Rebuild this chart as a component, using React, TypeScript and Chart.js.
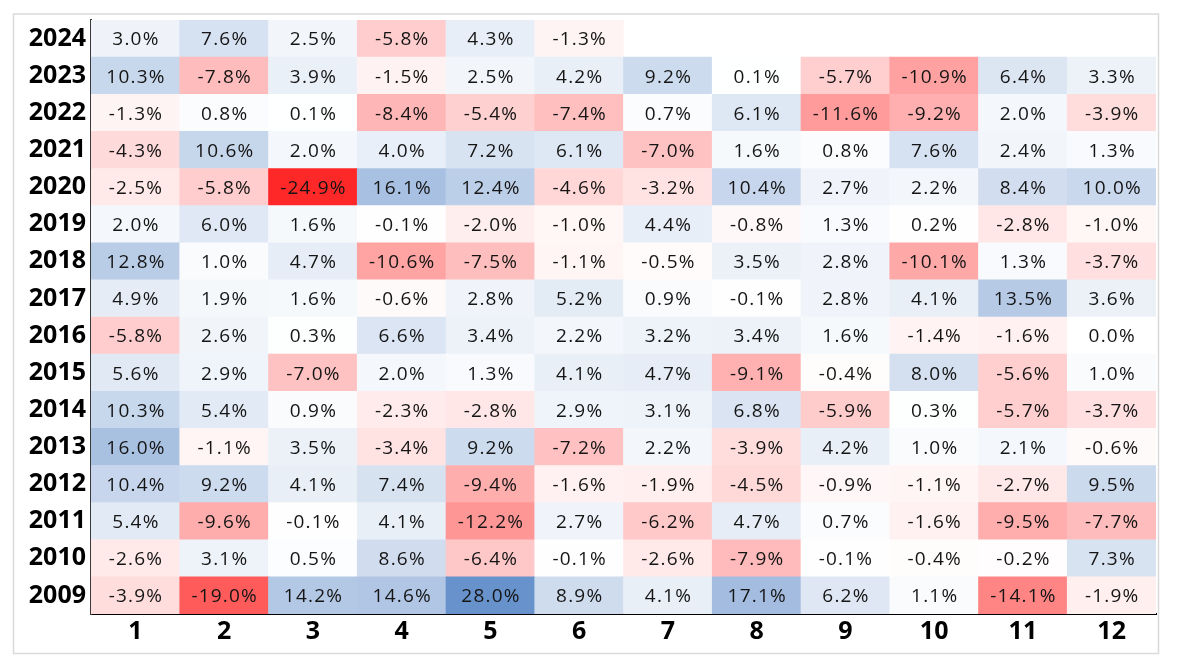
import React, { useEffect, useRef } from "react";
import { Chart, registerables } from "chart.js";

Chart.register(...registerables);

const months = ["1", "2", "3", "4", "5", "6", "7", "8", "9", "10", "11", "12"];
const years = [2009, 2010, 2011, 2012, 2013, 2014, 2015, 2016, 2017, 2018, 2019, 2020, 2021, 2022, 2023, 2024];

const r2009 = [-3.9, -19.0, 14.2, 14.6, 28.0, 8.9, 4.1, 17.1, 6.2, 1.1, -14.1, -1.9];
const r2010 = [-2.6, 3.1, 0.5, 8.6, -6.4, -0.1, -2.6, -7.9, -0.1, -0.4, -0.2, 7.3];
const r2011 = [5.4, -9.6, -0.1, 4.1, -12.2, 2.7, -6.2, 4.7, 0.7, -1.6, -9.5, -7.7];
const r2012 = [10.4, 9.2, 4.1, 7.4, -9.4, -1.6, -1.9, -4.5, -0.9, -1.1, -2.7, 9.5];
const r2013 = [16.0, -1.1, 3.5, -3.4, 9.2, -7.2, 2.2, -3.9, 4.2, 1.0, 2.1, -0.6];
const r2014 = [10.3, 5.4, 0.9, -2.3, -2.8, 2.9, 3.1, 6.8, -5.9, 0.3, -5.7, -3.7];
const r2015 = [5.6, 2.9, -7.0, 2.0, 1.3, 4.1, 4.7, -9.1, -0.4, 8.0, -5.6, 1.0];
const r2016 = [-5.8, 2.6, 0.3, 6.6, 3.4, 2.2, 3.2, 3.4, 1.6, -1.4, -1.6, 0.0];
const r2017 = [4.9, 1.9, 1.6, -0.6, 2.8, 5.2, 0.9, -0.1, 2.8, 4.1, 13.5, 3.6];
const r2018 = [12.8, 1.0, 4.7, -10.6, -7.5, -1.1, -0.5, 3.5, 2.8, -10.1, 1.3, -3.7];
const r2019 = [2.0, 6.0, 1.6, -0.1, -2.0, -1.0, 4.4, -0.8, 1.3, 0.2, -2.8, -1.0];
const r2020 = [-2.5, -5.8, -24.9, 16.1, 12.4, -4.6, -3.2, 10.4, 2.7, 2.2, 8.4, 10.0];
const r2021 = [-4.3, 10.6, 2.0, 4.0, 7.2, 6.1, -7.0, 1.6, 0.8, 7.6, 2.4, 1.3];
const r2022 = [-1.3, 0.8, 0.1, -8.4, -5.4, -7.4, 0.7, 6.1, -11.6, -9.2, 2.0, -3.9];
const r2023 = [10.3, -7.8, 3.9, -1.5, 2.5, 4.2, 9.2, 0.1, -5.7, -10.9, 6.4, 3.3];
const r2024 = [3.0, 7.6, 2.5, -5.8, 4.3, -1.3, null, null, null, null, null, null];

const rows: (number | null)[][] = [
  r2009, r2010, r2011, r2012, r2013, r2014, r2015, r2016,
  r2017, r2018, r2019, r2020, r2021, r2022, r2023, r2024,
];

function colorFor(v: number | null): string {
  if (v == null) return "rgba(255,255,255,0)";
  if (v < 0) {
    const t = Math.min(1, -v / 29.5);
    const c = Math.round(255 * (1 - t));
    return `rgb(255,${c},${c})`;
  }
  const t = Math.min(1, v / 30);
  return `rgb(${Math.round(255 - t * 162)},${Math.round(255 - t * 117)},${Math.round(255 - t * 56)})`;
}

const framePlugin = {
  id: "frame",
  beforeDraw(chart: any) {
    const ctx = chart.ctx;
    ctx.save();
    ctx.fillStyle = "#ffffff";
    ctx.fillRect(0, 0, chart.width, chart.height);
    ctx.strokeStyle = "#dadada";
    ctx.lineWidth = 1.5;
    ctx.strokeRect(13.5, 14, 1145, 639.5);
    ctx.restore();
  },
};

const labelPlugin = {
  id: "cellLabels",
  afterDatasetsDraw(chart: any) {
    const ctx = chart.ctx;
    ctx.save();
    ctx.font = '400 19px "Open Sans"';
    try {
      (ctx as any).letterSpacing = "1.2px";
    } catch (e) {}
    ctx.fillStyle = "#151515";
    ctx.textAlign = "center";
    ctx.textBaseline = "middle";
    chart.data.datasets.forEach((ds: any, i: number) => {
      const meta = chart.getDatasetMeta(i);
      meta.data.forEach((el: any, j: number) => {
        const v = rows[i][j];
        if (v == null) return;
        const p = el.getProps(["x", "y", "base"], true);
        const cy = (p.y + p.base) / 2;
        ctx.fillText(`${v.toFixed(1)}%`, p.x + 0.6, cy + 1.5);
      });
    });
    ctx.restore();
  },
};

export default function App() {
  const ref = useRef<HTMLCanvasElement | null>(null);
  useEffect(() => {
    if (!ref.current) return;
    const datasets = rows.map((vals, i) => ({
      label: String(years[i]),
      data: months.map((_, j) => (vals[j] == null ? null : [i - 0.5, i + 0.5])),
      backgroundColor: months.map((_, j) => colorFor(vals[j])),
      borderWidth: 0,
      grouped: false,
      categoryPercentage: 1,
      barPercentage: 1,
    }));
    const chart = new Chart(ref.current, {
      type: "bar",
      data: { labels: months, datasets: datasets as any },
      options: {
        animation: false,
        responsive: false,
        layout: { padding: { top: 14, right: 30, left: 0, bottom: 0 } },
        plugins: { legend: { display: false }, tooltip: { enabled: false } },
        scales: {
          x: {
            type: "category",
            grid: { display: false, drawTicks: false },
            border: { display: true, color: "#000000", width: 2 },
            ticks: {
              color: "#000000",
              padding: 3,
              font: { family: "Open Sans", weight: "bold", size: 25 },
            },
            afterFit: (scale: any) => {
              scale.height = 52;
            },
          },
          y: {
            type: "linear",
            min: -0.5,
            max: 15.5,
            grid: { display: false, drawTicks: false },
            border: { display: true, color: "#3a3a3a", width: 2 },
            afterBuildTicks: (scale: any) => {
              scale.ticks = years.map((_, i) => ({ value: i }));
            },
            ticks: {
              color: "#000000",
              padding: 5,
              font: { family: "Open Sans", weight: "bold", size: 25 },
              callback: (value: any) => String(years[Math.round(Number(value))] ?? ""),
            },
            afterFit: (scale: any) => {
              scale.width = 91;
            },
          },
        },
      },
      plugins: [framePlugin, labelPlugin],
    });
    return () => chart.destroy();
  }, []);
  return (
    <div style={{ position: "fixed", left: 0, top: 0, width: 1186, height: 666, background: "#fff" }}>
      <canvas ref={ref} width={1186} height={666} style={{ display: "block" }} />
    </div>
  );
}
